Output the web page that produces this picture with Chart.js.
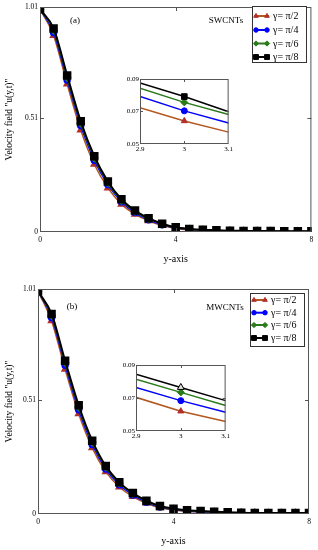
<!DOCTYPE html>
<html>
<head>
<meta charset="utf-8">
<script src="https://cdn.jsdelivr.net/npm/chart.js"></script>
<style>
  body { margin: 0; background: #fff; width: 318px; height: 550px; position: relative; overflow: hidden; }
  canvas { position: absolute; }
</style>
</head>
<body>
<canvas id="mainA" width="318" height="275" style="left:0;top:0"></canvas>
<canvas id="zoomA" width="122" height="86" style="left:112px;top:72px"></canvas>
<canvas id="mainB" width="318" height="275" style="left:0;top:275px"></canvas>
<canvas id="zoomB" width="123" height="87" style="left:108px;top:358px"></canvas>
<script>
// data
const yPos = [0, 0.4, 0.8, 1.2, 1.6, 2.0, 2.4, 2.8, 3.2, 3.6, 4.0, 4.4, 4.8, 5.2, 5.6, 6.0, 6.4, 6.8, 7.2, 7.6, 8.0];
const gammaLabels = ["γ= π/2", "γ= π/4", "γ= π/6", "γ= π/8"];

const swPi2 = [1.0, 0.882, 0.664, 0.458, 0.304, 0.198, 0.125, 0.080, 0.050, 0.029, 0.016, 0.010, 0.007, 0.005, 0.004, 0.003, 0.003, 0.002, 0.002, 0.002, 0.002];
const swPi4 = [1.0, 0.896, 0.682, 0.478, 0.322, 0.213, 0.136, 0.087, 0.055, 0.032, 0.018, 0.012, 0.008, 0.006, 0.005, 0.004, 0.003, 0.003, 0.003, 0.002, 0.002];
const swPi6 = [1.0, 0.906, 0.693, 0.488, 0.332, 0.220, 0.141, 0.092, 0.059, 0.035, 0.020, 0.013, 0.009, 0.007, 0.005, 0.004, 0.004, 0.003, 0.003, 0.003, 0.003];
const swPi8 = [1.0, 0.914, 0.703, 0.497, 0.340, 0.227, 0.147, 0.096, 0.062, 0.037, 0.021, 0.014, 0.010, 0.008, 0.006, 0.005, 0.004, 0.004, 0.003, 0.003, 0.003];

const mwPi2 = [1.0, 0.868, 0.650, 0.450, 0.297, 0.190, 0.121, 0.078, 0.048, 0.028, 0.018, 0.012, 0.009, 0.007, 0.005, 0.004, 0.004, 0.003, 0.003, 0.003, 0.003];
const mwPi4 = [1.0, 0.882, 0.668, 0.468, 0.312, 0.202, 0.131, 0.085, 0.053, 0.031, 0.020, 0.014, 0.010, 0.008, 0.006, 0.005, 0.004, 0.004, 0.003, 0.003, 0.003];
const mwPi6 = [1.0, 0.891, 0.680, 0.480, 0.322, 0.210, 0.138, 0.091, 0.057, 0.034, 0.022, 0.016, 0.012, 0.009, 0.007, 0.006, 0.005, 0.004, 0.004, 0.004, 0.004];
const mwPi8 = [1.0, 0.898, 0.688, 0.488, 0.329, 0.215, 0.142, 0.094, 0.060, 0.036, 0.024, 0.017, 0.013, 0.010, 0.008, 0.006, 0.005, 0.005, 0.004, 0.004, 0.004];

const zoomPos = [2.9, 3.0, 3.1];
const swZoomPi2 = [0.0723, 0.0642, 0.0573];
const swZoomPi4 = [0.0792, 0.0704, 0.0629];
const swZoomPi6 = [0.0844, 0.0756, 0.0681];
const swZoomPi8 = [0.0875, 0.0792, 0.0698];
const mwZoomPi2 = [0.0704, 0.0620, 0.0558];
const mwZoomPi4 = [0.0764, 0.0684, 0.0614];
const mwZoomPi6 = [0.0814, 0.0734, 0.0654];
const mwZoomPi8 = [0.0844, 0.0764, 0.0684];

const mainXTicks = [0, 4, 8];
const mainYTicks = [0, 0.51, 1.01];
const zoomXTicks = [2.9, 3, 3.1];
const zoomYTicks = [0.05, 0.07, 0.09];

const SERIF = "'Liberation Serif', 'DejaVu Serif', serif";
const styles = [
  { line: "#b5561e", mark: "#b0302a", shape: "triangle", r: 3.5, w: 1.5 },
  { line: "#0000ff", mark: "#0000ff", shape: "circle", r: 3, w: 1.5 },
  { line: "#2b7a1c", mark: "#2b7a1c", shape: "rectRot", r: 3.5, w: 1.5 },
  { line: "#000000", mark: "#000000", shape: "rect", r: 4.6, w: 2 }
];

function pairs(xs, ys) { return xs.map((x, i) => ({ x: x, y: ys[i] })); }

// box round the plot with inward ticks
const framePlugin = {
  id: "frame",
  beforeDatasetsDraw(chart, args, o) {
    const a = chart.chartArea, ctx = chart.ctx;
    if (o.fill) {
      ctx.save(); ctx.fillStyle = "#fff";
      ctx.fillRect(a.left, a.top, a.right - a.left, a.bottom - a.top);
      ctx.restore();
    }
  },
  afterDatasetsDraw(chart, args, o) {
    const a = chart.chartArea, ctx = chart.ctx;
    const xs = chart.scales.x, ys = chart.scales.y, t = o.tick || 4;
    ctx.save();
    ctx.strokeStyle = "#555"; ctx.lineWidth = 1;
    ctx.strokeRect(a.left + 0.5, a.top + 0.5, a.right - a.left - 1, a.bottom - a.top - 1);
    ctx.beginPath();
    xs.ticks.forEach(tk => {
      const px = Math.round(xs.getPixelForValue(tk.value)) + 0.5;
      if (px > a.left + 2 && px < a.right - 2) {
        ctx.moveTo(px, a.top); ctx.lineTo(px, a.top + t);
        ctx.moveTo(px, a.bottom); ctx.lineTo(px, a.bottom - t);
      }
    });
    ys.ticks.forEach(tk => {
      const py = Math.round(ys.getPixelForValue(tk.value)) + 0.5;
      if (py > a.top + 2 && py < a.bottom - 2) {
        ctx.moveTo(a.left, py); ctx.lineTo(a.left + t, py);
        ctx.moveTo(a.right, py); ctx.lineTo(a.right - t, py);
      }
    });
    ctx.stroke();
    ctx.restore();
  }
};

const legendPlugin = {
  id: "boxLegend",
  afterDraw(chart, args, o) {
    if (!o.box) return;
    const ctx = chart.ctx, b = o.box;
    ctx.save();
    ctx.fillStyle = "#fff"; ctx.fillRect(b.x, b.y, b.w, b.h);
    ctx.strokeStyle = "#333"; ctx.lineWidth = 1;
    ctx.strokeRect(b.x + 0.5, b.y + 0.5, b.w, b.h);
    ctx.font = "10px " + SERIF; ctx.textBaseline = "middle"; ctx.textAlign = "left";
    chart.data.datasets.forEach((ds, i) => {
      const y = o.rows[i], st = styles[i];
      ctx.strokeStyle = st.line; ctx.lineWidth = 2;
      ctx.beginPath(); ctx.moveTo(o.lineX[0], y); ctx.lineTo(o.lineX[1], y); ctx.stroke();
      ctx.fillStyle = st.mark; ctx.strokeStyle = st.mark; ctx.lineWidth = 1;
      [o.lineX[0] + 2, o.lineX[1] - 2].forEach(px => {
        Chart.helpers.drawPoint(ctx, { pointStyle: st.shape, radius: st.r * 0.75, rotation: 0, borderWidth: 1 }, px, y);
      });
      ctx.fillStyle = "#000";
      ctx.fillText(ds.label, o.textX, y + 0.5);
    });
    ctx.font = "9px " + SERIF; ctx.fillStyle = "#000"; ctx.textAlign = "center";
    ctx.fillText(o.tag, o.tagPos[0], o.tagPos[1]);
    ctx.fillText(o.panel, o.panelPos[0], o.panelPos[1]);
    ctx.restore();
  }
};

function mainChart(id, series, lg, pad) {
  new Chart(document.getElementById(id), {
    type: "line",
    data: {
      datasets: series.map((ys, i) => ({
        label: gammaLabels[i],
        data: pairs(yPos, ys),
        borderColor: styles[i].line,
        backgroundColor: styles[i].mark,
        pointBackgroundColor: styles[i].mark,
        pointBorderColor: styles[i].mark,
        pointStyle: styles[i].shape,
        pointRadius: styles[i].r,
        borderWidth: styles[i].w,
        cubicInterpolationMode: "monotone",
        order: 4 - i,
        fill: false
      }))
    },
    options: {
      responsive: false, animation: false, devicePixelRatio: 1,
      layout: { padding: { left: pad.left, top: pad.top, right: pad.right, bottom: 0 } },
      plugins: { legend: { display: false }, tooltip: { enabled: false }, boxLegend: lg, frame: { tick: 4 } },
      scales: {
        x: {
          type: "linear", min: 0, max: 8,
          afterBuildTicks: s => { s.ticks = mainXTicks.map(v => ({ value: v })); },
          afterFit: s => { s.height = pad.xh; },
          grid: { display: false, drawTicks: false }, border: { display: false },
          ticks: { font: { family: SERIF, size: 7.5 }, color: "#000", padding: 4, maxRotation: 0 },
          title: { display: true, text: "y-axis", font: { family: SERIF, size: 10 }, color: "#000", padding: { top: 0, bottom: pad.tb } }
        },
        y: {
          min: 0, max: 1.01,
          afterBuildTicks: s => { s.ticks = mainYTicks.map(v => ({ value: v })); },
          afterFit: s => { s.width = pad.yw; },
          grid: { display: false, drawTicks: false }, border: { display: false },
          ticks: { font: { family: SERIF, size: 7.5 }, color: "#000", padding: 2, callback: v => String(v) },
          title: { display: true, text: "Velocity field \"u(y,t)\"", font: { family: SERIF, size: 9.5 }, color: "#000", padding: { top: 4, bottom: 0 } }
        }
      }
    },
    plugins: [framePlugin, legendPlugin]
  });
}

function zoomChart(id, series, blackShape) {
  new Chart(document.getElementById(id), {
    type: "line",
    data: {
      datasets: series.map((ys, i) => {
        const st = styles[i];
        const shape = i === 3 ? blackShape : st.shape;
        return {
          label: gammaLabels[i],
          data: pairs(zoomPos, ys),
          borderColor: st.line,
          pointBackgroundColor: i === 3 && blackShape === "triangle" ? "#ddd" : st.mark,
          pointBorderColor: st.mark,
          pointBorderWidth: 1,
          pointStyle: shape,
          pointRadius: ys.map((v, k) => k === 1 ? (i === 3 ? 4 : st.r) : 0),
          borderWidth: 1.5,
          tension: 0,
          order: 4 - i,
          fill: false
        };
      })
    },
    options: {
      responsive: false, animation: false, devicePixelRatio: 1,
      layout: { padding: { left: 0, top: 7, right: 4, bottom: 0 } },
      plugins: { legend: { display: false }, tooltip: { enabled: false }, frame: { tick: 3, fill: true } },
      scales: {
        x: {
          type: "linear", min: 2.9, max: 3.1,
          afterBuildTicks: s => { s.ticks = zoomXTicks.map(v => ({ value: v })); },
          afterFit: s => { s.height = 14; },
          grid: { display: false, drawTicks: false }, border: { display: false },
          ticks: { font: { family: SERIF, size: 7 }, color: "#000", padding: 1, maxRotation: 0, callback: v => String(v) }
        },
        y: {
          min: 0.05, max: 0.09,
          afterBuildTicks: s => { s.ticks = zoomYTicks.map(v => ({ value: v })); },
          afterFit: s => { s.width = 28; },
          grid: { display: false, drawTicks: false }, border: { display: false },
          ticks: { font: { family: SERIF, size: 7 }, color: "#000", padding: 1, callback: v => String(v) }
        }
      }
    },
    plugins: [framePlugin]
  });
}

mainChart("mainA", [swPi2, swPi4, swPi6, swPi8], {
  box: { x: 252, y: 6, w: 54, h: 56 },
  rows: [16, 30, 43.5, 57], lineX: [254, 269], textX: 273,
  tag: "SWCNTs", tagPos: [226, 21], panel: "(a)", panelPos: [75, 21]
}, { left: 0, top: 7, right: 6, yw: 40, xh: 43, tb: 10 });

mainChart("mainB", [mwPi2, mwPi4, mwPi6, mwPi8], {
  box: { x: 250, y: 18, w: 54, h: 53 },
  rows: [25, 37.7, 50, 63], lineX: [252, 267], textX: 271,
  tag: "MWCNTs", tagPos: [225, 33], panel: "(b)", panelPos: [72, 32]
}, { left: 0, top: 14, right: 9, yw: 38, xh: 36, tb: 3 });

zoomChart("zoomA", [swZoomPi2, swZoomPi4, swZoomPi6, swZoomPi8], "rect");
zoomChart("zoomB", [mwZoomPi2, mwZoomPi4, mwZoomPi6, mwZoomPi8], "triangle");
</script>
</body>
</html>
